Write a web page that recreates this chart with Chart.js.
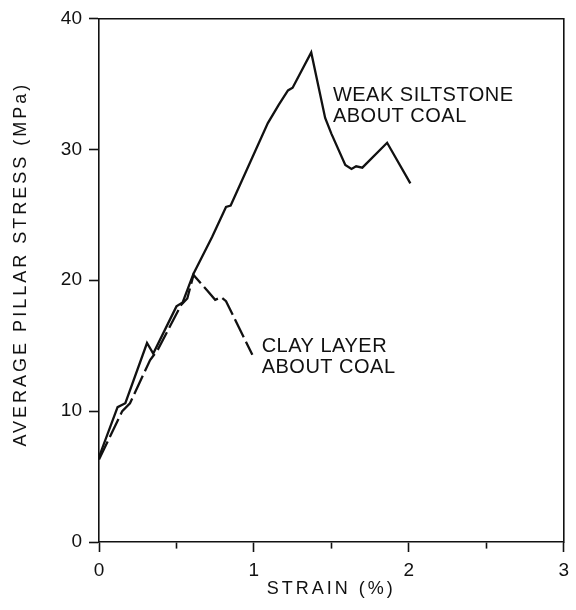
<!DOCTYPE html>
<html>
<head>
<meta charset="utf-8">
<title>Average pillar stress vs strain</title>
<script src="https://cdn.jsdelivr.net/npm/chart.js@4/dist/chart.umd.min.js"></script>
<style>
  html, body { margin: 0; padding: 0; background: #fff; }
  canvas { display: block; }
</style>
</head>
<body>
<canvas id="chart" width="576" height="610"></canvas>
<script>
"use strict";

// weak siltstone about coal (solid line)
const siltStrain = [0, 0.12, 0.17, 0.31, 0.35, 0.50, 0.54, 0.61, 0.73, 0.82, 0.85, 1.09, 1.16, 1.22, 1.25, 1.37, 1.46, 1.50, 1.59, 1.63, 1.66, 1.70, 1.86, 2.01];
const siltStress = [6.5, 10.3, 10.6, 15.2, 14.4, 18.0, 18.3, 20.5, 23.3, 25.6, 25.7, 32.0, 33.4, 34.5, 34.7, 37.4, 32.4, 31.2, 28.8, 28.5, 28.7, 28.6, 30.5, 27.4];

// clay layer about coal (dashed line)
const clayStrain = [0, 0.15, 0.20, 0.33, 0.38, 0.53, 0.57, 0.61, 0.70, 0.75, 0.79, 0.82, 0.99];
const clayStress = [6.3, 10.0, 10.6, 13.9, 14.7, 18.1, 18.6, 20.4, 19.2, 18.5, 18.7, 18.4, 14.3];

const xRange = [0, 3];
const yRange = [0, 40];
const xTitle = "STRAIN (%)";
const yTitle = "AVERAGE PILLAR STRESS (MPa)";
const curveLabels = [
  { lines: ["WEAK SILTSTONE", "ABOUT COAL"], x: 1.51, y: 33.7 },
  { lines: ["CLAY LAYER", "ABOUT COAL"], x: 1.05, y: 14.5 }
];

const INK = "#111";

function toPoints(xs, ys) {
  return xs.map((x, i) => ({ x, y: ys[i] }));
}

// axis titles in the scan are set loosely; tick labels (drawn after datasets, z 1) are not
const spacingPlugin = {
  id: "spacing",
  beforeDraw(chart) {
    chart.ctx.letterSpacing = "3px";
  },
  beforeDatasetsDraw(chart) {
    chart.ctx.letterSpacing = "0px";
  },
  afterDraw(chart) {
    chart.ctx.letterSpacing = "0px";
  }
};

const curveLabelPlugin = {
  id: "curveLabels",
  afterDraw(chart) {
    const { ctx, scales } = chart;
    ctx.save();
    ctx.letterSpacing = "0.5px";
    ctx.font = "20px 'Liberation Sans', Arial, sans-serif";
    ctx.fillStyle = INK;
    ctx.textAlign = "left";
    ctx.textBaseline = "alphabetic";
    curveLabels.forEach((label) => {
      const px = scales.x.getPixelForValue(label.x);
      const py = scales.y.getPixelForValue(label.y);
      label.lines.forEach((line, i) => {
        ctx.fillText(line, px, py + i * 21);
      });
    });
    ctx.restore();
  }
};

Chart.defaults.font.family = "'Liberation Sans', Arial, sans-serif";
Chart.defaults.color = INK;

const frameAxis = (position, size) => ({
  type: "linear",
  position,
  min: position === "top" ? xRange[0] : yRange[0],
  max: position === "top" ? xRange[1] : yRange[1],
  grid: { display: false },
  ticks: { display: false },
  border: { display: true, color: INK, width: 1.6 },
  afterFit(scale) {
    if (position === "top") {
      scale.height = size;
    } else {
      scale.width = size;
    }
  }
});

new Chart(document.getElementById("chart"), {
  type: "line",
  data: {
    datasets: [
      {
        label: "Weak siltstone about coal",
        data: toPoints(siltStrain, siltStress),
        borderColor: INK,
        borderWidth: 2.3,
        pointRadius: 0,
        tension: 0,
        fill: false
      },
      {
        label: "Clay layer about coal",
        data: toPoints(clayStrain, clayStress),
        borderColor: INK,
        borderWidth: 2.3,
        borderDash: [20, 5],
        pointRadius: 0,
        tension: 0,
        fill: false
      }
    ]
  },
  options: {
    responsive: false,
    animation: false,
    devicePixelRatio: 1,
    layout: { padding: 0 },
    plugins: {
      legend: { display: false },
      tooltip: { enabled: false }
    },
    scales: {
      x: {
        type: "linear",
        position: "bottom",
        min: xRange[0],
        max: xRange[1],
        ticks: {
          z: 1,
          stepSize: 0.5,
          padding: 7,
          font: { size: 19 },
          color: INK,
          callback: (v) => (Number.isInteger(v) ? String(v) : "")
        },
        grid: {
          drawOnChartArea: false,
          tickLength: 10,
          tickColor: INK,
          tickWidth: 1.6,
          tickBorderDash: (ctx) => (Number.isInteger(ctx.tick.value) ? [] : [6, 40])
        },
        border: { color: INK, width: 1.6 },
        title: {
          display: true,
          text: xTitle,
          color: INK,
          font: { size: 18 },
          padding: { top: 0, bottom: 10 }
        },
        afterFit(scale) {
          scale.height = 68;
        }
      },
      y: {
        type: "linear",
        position: "left",
        min: yRange[0],
        max: yRange[1],
        ticks: {
          z: 1,
          stepSize: 10,
          padding: 7,
          font: { size: 19 },
          color: INK
        },
        grid: {
          drawOnChartArea: false,
          tickLength: 10,
          tickColor: INK,
          tickWidth: 1.6
        },
        border: { color: INK, width: 1.6 },
        title: {
          display: true,
          // leading spaces nudge the rotated title up to where the original sits
          text: "    " + yTitle,
          color: INK,
          font: { size: 18 },
          padding: { top: 10, bottom: 0 }
        },
        afterFit(scale) {
          scale.width = 99;
        }
      },
      xTop: frameAxis("top", 18),
      yRight: frameAxis("right", 9)
    }
  },
  plugins: [spacingPlugin, curveLabelPlugin]
});
</script>
</body>
</html>
